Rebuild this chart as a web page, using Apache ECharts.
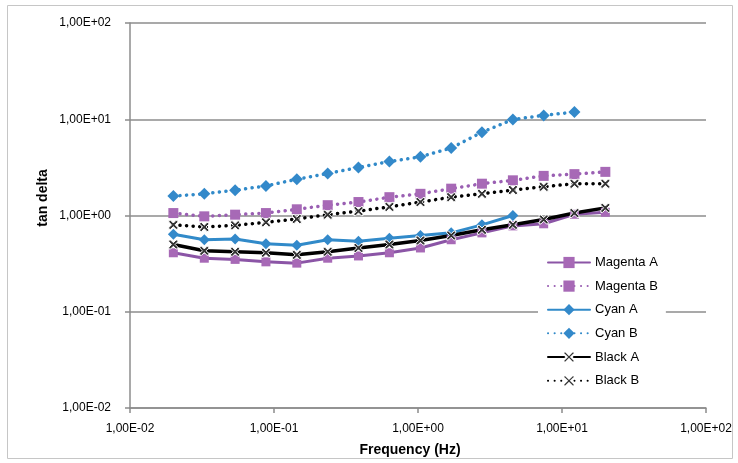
<!DOCTYPE html>
<html>
<head>
<meta charset="utf-8">
<script src="https://cdn.jsdelivr.net/npm/echarts@6/dist/echarts.min.js"></script>
<style>html,body{margin:0;padding:0;background:#fff}#c{width:738px;height:463px}</style>
</head>
<body>
<div id="c"></div>
<script>
const frequency = [0.02, 0.0328, 0.0537, 0.0879, 0.144, 0.236, 0.386, 0.633, 1.04, 1.70, 2.78, 4.56, 7.46, 12.2, 20.0];
const magentaA = [0.41, 0.36, 0.35, 0.33, 0.32, 0.36, 0.38, 0.41, 0.46, 0.56, 0.66, 0.78, 0.82, 1.03, 1.08];
const magentaB = [1.06, 0.98, 1.02, 1.06, 1.16, 1.28, 1.38, 1.55, 1.68, 1.90, 2.14, 2.32, 2.58, 2.69, 2.84];
const cyanA = [0.64, 0.56, 0.57, 0.51, 0.49, 0.56, 0.54, 0.58, 0.62, 0.66, 0.80, 1.00];
const cyanB = [1.59, 1.68, 1.83, 2.03, 2.38, 2.73, 3.15, 3.64, 4.08, 5.03, 7.33, 9.95, 10.96, 11.87];
const blackA = [0.50, 0.43, 0.42, 0.41, 0.39, 0.42, 0.46, 0.50, 0.55, 0.62, 0.71, 0.80, 0.91, 1.06, 1.20];
const blackB = [0.80, 0.76, 0.79, 0.85, 0.92, 1.02, 1.11, 1.23, 1.38, 1.55, 1.68, 1.84, 1.99, 2.14, 2.14];
const seriesNames = ['Magenta A', 'Magenta B', 'Cyan A', 'Cyan B', 'Black A', 'Black B'];
const xTickLabels = ['1,00E-02', '1,00E-01', '1,00E+00', '1,00E+01', '1,00E+02'];
const yTickLabels = ['1,00E-02', '1,00E-01', '1,00E+00', '1,00E+01', '1,00E+02'];
const xTitle = 'Frequency (Hz)';
const yTitle = 'tan delta';

function pairs(ys) { return ys.map((v, i) => [frequency[i], v]); }
function labelFor(list, v) {
  const e = Math.round(Math.log10(v)) + 2;
  return list[e] !== undefined ? list[e] : '';
}

const FONT = 'Liberation Sans';
const AX = '#8c8c8c';
const xPath = 'path://M0,0 L2,0 L5,3 L8,0 L10,0 L10,2 L7,5 L10,8 L10,10 L8,10 L5,7 L2,10 L0,10 L0,8 L3,5 L0,2 Z';
const dots = [0.1, 6.5];

const chart = echarts.init(document.getElementById('c'), null, {renderer: 'canvas'});
const mk = (name, data, color, mcolor, type, symbol, size, width) => ({
  name, type: 'line', data: pairs(data), symbol, symbolSize: size, showSymbol: true,
  lineStyle: {color, width, type, cap: 'round'},
  itemStyle: {color: mcolor, borderColor: mcolor, borderWidth: 0},
  emphasis: {disabled: true}, animation: false
});
const xStyle = {color: '#333', borderColor: '#fff', borderWidth: 1};

chart.setOption({
  animation: false,
  textStyle: {fontFamily: FONT},
  grid: {left: 130, right: 32, top: 23, bottom: 55, containLabel: false},
  graphic: [
    {type: 'rect', shape: {x: 7.5, y: 5.5, width: 725, height: 453}, style: {fill: 'none', stroke: '#c6c6c6', lineWidth: 1}, silent: true, z: -10},
    {type: 'text', x: 43, y: 198, rotation: Math.PI / 2, style: {text: yTitle, font: 'bold 14px ' + FONT, fill: '#000', align: 'center', verticalAlign: 'middle'}},
    {type: 'text', x: 410, y: 450, style: {text: xTitle, font: 'bold 14px ' + FONT, fill: '#000', align: 'center', verticalAlign: 'middle'}}
  ],
  legend: {
    orient: 'vertical', left: 538, top: 250,
    backgroundColor: '#fff', padding: [6, 8, 6, 9],
    itemWidth: 42, itemHeight: 14, itemGap: 10.6,
    textStyle: {fontFamily: FONT, fontSize: 13, color: '#000'},
    data: seriesNames
  },
  xAxis: {
    type: 'log', logBase: 10, min: 0.01, max: 100, splitNumber: 4,
    axisLine: {show: true, lineStyle: {color: AX, width: 1.5}},
    axisTick: {show: true, inside: false, length: 5, lineStyle: {color: AX, width: 1.5}},
    minorTick: {show: false},
    splitLine: {show: false},
    axisLabel: {margin: 15, fontSize: 12, color: '#000', fontFamily: FONT, formatter: v => labelFor(xTickLabels, v)}
  },
  yAxis: {
    type: 'log', logBase: 10, min: 0.01, max: 100, splitNumber: 4,
    axisLine: {show: true, lineStyle: {color: AX, width: 1.5}},
    axisTick: {show: true, inside: false, length: 5, lineStyle: {color: AX, width: 1.5}},
    minorTick: {show: false},
    splitLine: {show: true, lineStyle: {color: AX, width: 1.5}},
    axisLabel: {margin: 19, fontSize: 12, color: '#000', fontFamily: FONT, formatter: v => labelFor(yTickLabels, v)}
  },
  series: [
    mk(seriesNames[0], magentaA, '#8b55a6', '#a769b6', 'solid', 'rect', 9, 3),
    mk(seriesNames[1], magentaB, '#9a5fb3', '#a769b6', dots, 'rect', 10, 3.5),
    mk(seriesNames[2], cyanA, '#318ac9', '#3389ca', 'solid', 'diamond', 11, 3),
    mk(seriesNames[3], cyanB, '#318ac9', '#3389ca', dots, 'diamond', 12, 3.5),
    Object.assign(mk(seriesNames[4], blackA, '#000', '#333', 'solid', xPath, 9, 3.5), {itemStyle: xStyle}),
    Object.assign(mk(seriesNames[5], blackB, '#000', '#333', dots, xPath, 9, 3.5), {itemStyle: xStyle})
  ]
});
</script>
</body>
</html>
